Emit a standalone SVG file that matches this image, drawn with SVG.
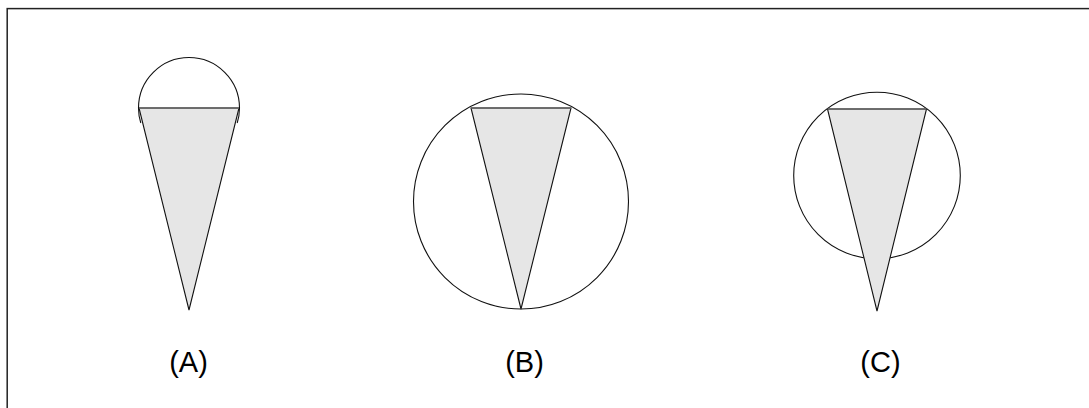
<svg xmlns="http://www.w3.org/2000/svg" width="1089" height="408" viewBox="0 0 1089 408">
<style>
.o{fill:none;stroke:#111;stroke-width:1.1}
.t{fill:#e6e6e6;stroke:#111;stroke-width:1.1;stroke-linejoin:miter}
.c{fill:none;stroke:#666;stroke-width:1.4}
.l{font-family:"Liberation Sans",Arial,sans-serif;font-size:29px;fill:#000;text-anchor:middle}
</style>
<rect x="7.2" y="8.6" width="1200" height="500" fill="none" stroke="#222" stroke-width="1.5"/>
<g id="A">
<path class="o" d="M138.5 108 A50.5 50.5 0 0 1 239.5 108"/>
<path class="o" d="M138.5 108 A50.5 50.5 0 0 0 140.8 123"/>
<path class="o" d="M239.5 108 A50.5 50.5 0 0 1 237.2 123"/>
<path class="t" d="M139 108 L239 108 L189 310 Z"/>
<line class="c" x1="139" y1="108" x2="239" y2="108"/>
<text class="l" x="188.5" y="372">(A)</text>
</g>
<g id="B">
<circle class="o" cx="521" cy="201.5" r="107.5"/>
<path class="t" d="M471 108 L571 108 L521 309 Z"/>
<line class="c" x1="471" y1="108" x2="571" y2="108"/>
<text class="l" x="524.5" y="372">(B)</text>
</g>
<g id="C">
<circle class="o" cx="877" cy="175.5" r="83.3"/>
<path class="t" d="M827.5 109 L926.5 109 L877 311 Z"/>
<line class="c" x1="827.5" y1="109" x2="926.5" y2="109"/>
<text class="l" x="880.5" y="372">(C)</text>
</g>
<g id="connectors"></g>
</svg>
